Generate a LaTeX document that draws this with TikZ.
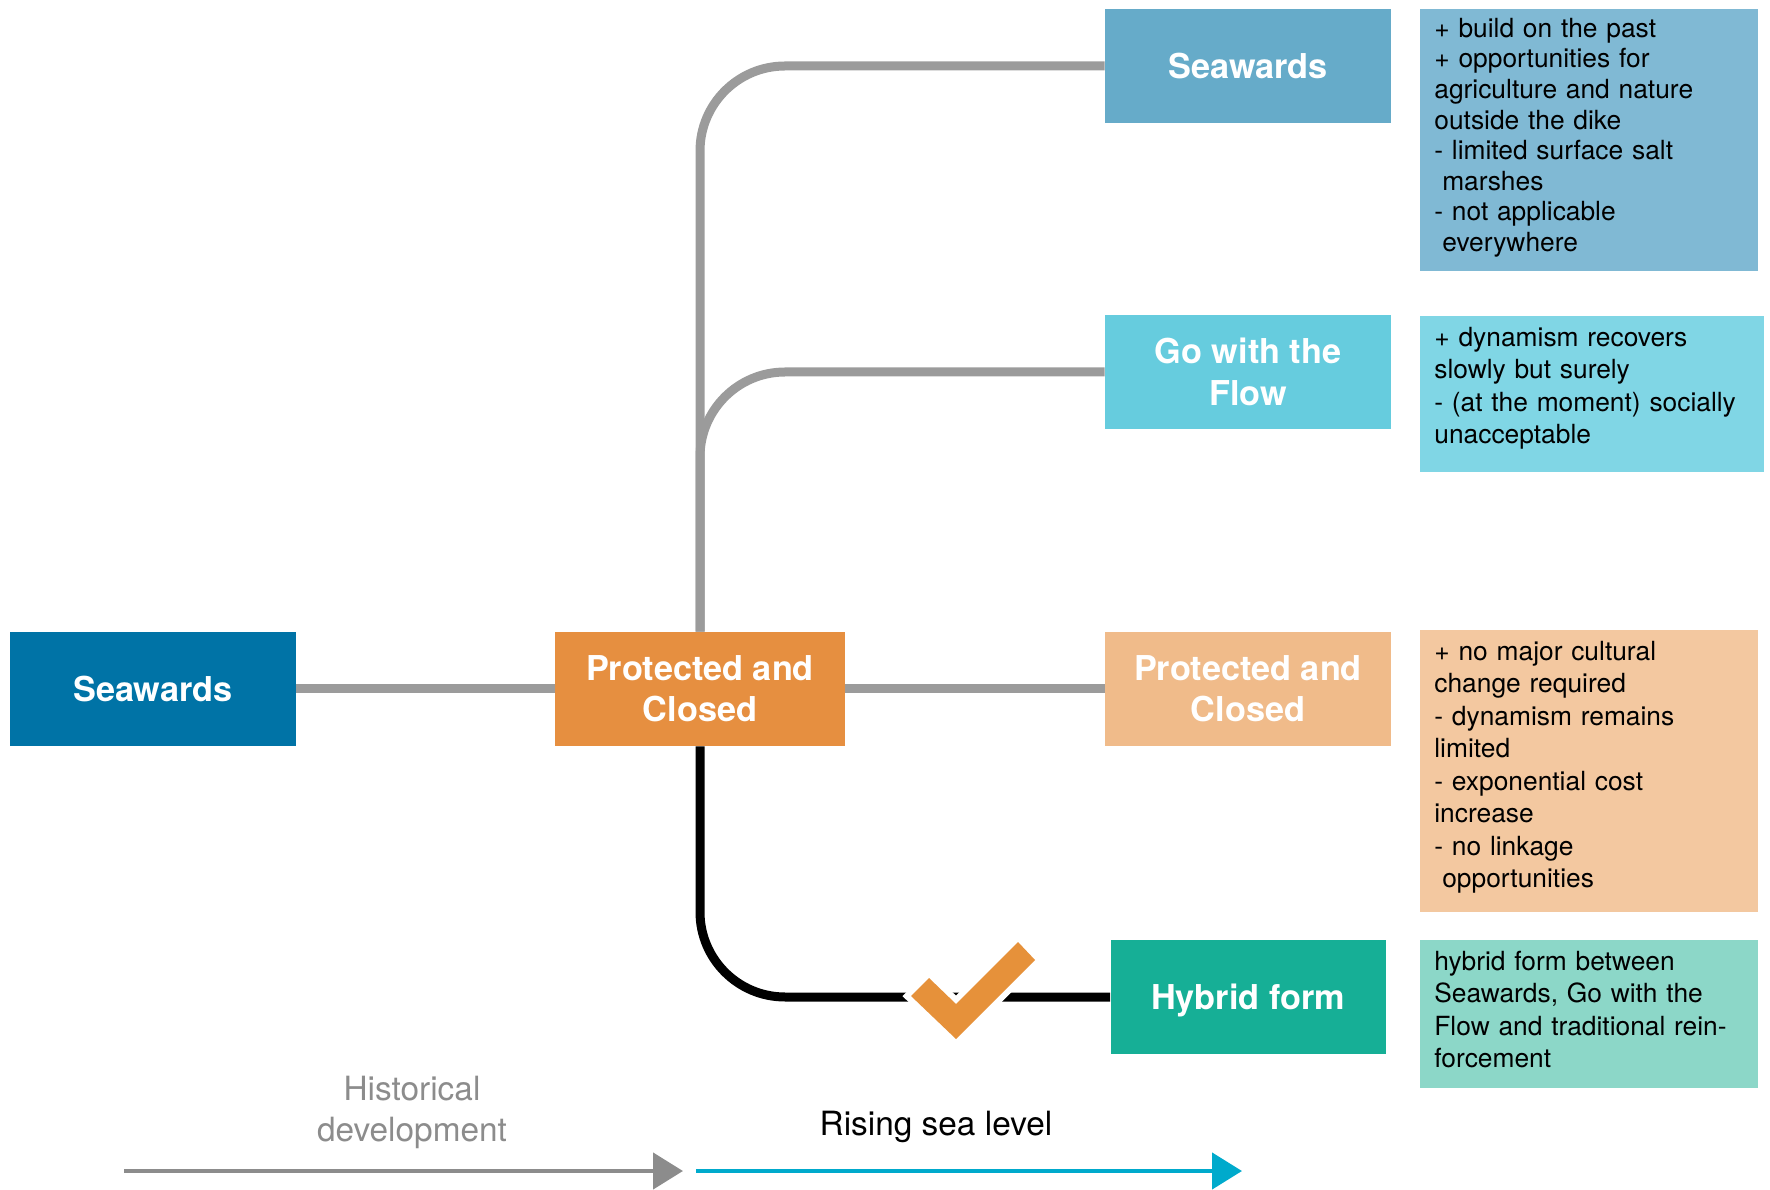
\documentclass[tikz,border=0pt]{standalone}
\usepackage{fontspec}
\setmainfont{TeX Gyre Heros}
\usepackage{tikz}
\usetikzlibrary{arrows.meta, positioning, calc}
\usepackage{xcolor}

\definecolor{seadark}{RGB}{0,115,166}
\definecolor{sealight}{RGB}{102,171,201}
\definecolor{flowblue}{RGB}{102,204,222}
\definecolor{protdark}{RGB}{230,143,64}
\definecolor{protlight}{RGB}{240,187,138}
\definecolor{hybgreen}{RGB}{22,175,150}
\definecolor{notesea}{RGB}{128,185,212}
\definecolor{noteflow}{RGB}{128,214,229}
\definecolor{noteprot}{RGB}{243,200,160}
\definecolor{notehyb}{RGB}{140,215,200}
\definecolor{linkgray}{RGB}{155,155,155}
\definecolor{arrowgray}{RGB}{140,140,140}
\definecolor{riseblue}{RGB}{0,170,204}
\definecolor{tickorange}{RGB}{230,145,58}

\begin{document}
\begin{tikzpicture}[
  box/.style={minimum width=5.72cm, minimum height=2.28cm, inner sep=0pt, align=center,
    text=white, font=\fontsize{19.5}{23.5}\selectfont\bfseries},
  note/.style={anchor=north west, text width=6.2cm, inner xsep=0.28cm, inner ysep=0pt,
    align=left, text height=0.6cm, font=\fontsize{15}{18.5}\selectfont},
  link/.style={line width=0.18cm, rounded corners=1.7cm},
  ]
  \useasboundingbox (0,0) rectangle (35.4,23.78);

  % strategies
  \node[box, fill=seadark] (sea0) at (3.06,10.0) {Seawards};
  \node[box, fill=protdark, minimum width=5.8cm] (prot0) at (14.0,10.0) {Protected and\\Closed};
  \node[box, fill=sealight] (sea1) at (24.96,22.46) {Seawards};
  \node[box, fill=flowblue] (flow) at (24.96,16.34) {Go with the\\Flow};
  \node[box, fill=protlight] (prot1) at (24.96,10.0) {Protected and\\Closed};
  \node[box, fill=hybgreen, minimum width=5.5cm, text depth=0pt] (hyb) at (24.96,3.84) {Hybrid form};

  % pros and cons
  \node[note, fill=notesea, text height=0.56cm, text depth=4.68cm, font=\fontsize{15}{17.4}\selectfont] (note1) at (28.4,23.6)
    {+ build on the past\\+ opportunities for\\agriculture and nature\\outside the dike\\
     - limited surface salt\\\hspace*{0.3em}marshes\\- not applicable\\\hspace*{0.3em}everywhere};
  \node[note, fill=noteflow, text depth=2.52cm, text width=6.32cm] (note2) at (28.4,17.46)
    {+ dynamism recovers\\slowly but surely\\- (at the moment) socially\\unacceptable};
  \node[note, fill=noteprot, text depth=5.04cm] (note3) at (28.4,11.18)
    {+ no major cultural\\change required\\- dynamism remains\\limited\\
     - exponential cost\\increase\\- no linkage\\\hspace*{0.3em}opportunities};
  \node[note, fill=notehyb, text depth=2.36cm] (note4) at (28.4,4.98)
    {hybrid form between\\Seawards, Go with the\\Flow and traditional rein-\\forcement};

  % branches
  \draw[link, linkgray] (sea0.east) -- (prot0.west);
  \draw[link, linkgray] (prot0.east) -- (prot1.west);
  \draw[link, linkgray] (prot0.north) |- (sea1.west);
  \draw[link, linkgray] (prot0.north) |- (flow.west);
  \draw[link, black] (prot0.south) |- (hyb.west);

  % tick on the chosen branch
  \draw[white, line width=0.24cm, line join=miter]
    (18.22,3.86) -- (18.58,4.22) -- (19.12,3.70) -- (20.36,4.94) -- (20.70,4.58) -- (19.12,3.00) -- cycle;
  \fill[tickorange]
    (18.22,3.86) -- (18.58,4.22) -- (19.12,3.70) -- (20.36,4.94) -- (20.70,4.58) -- (19.12,3.00) -- cycle;

  % time axis
  \coordinate (hist0) at (2.48,0.36);
  \coordinate (hist1) at (13.66,0.36);
  \coordinate (rise0) at (13.92,0.36);
  \coordinate (rise1) at (24.84,0.36);
  \draw[arrowgray, line width=0.09cm, -{Triangle[length=0.6cm, width=0.72cm]}] (hist0) -- (hist1);
  \draw[riseblue, line width=0.09cm, -{Triangle[length=0.6cm, width=0.72cm]}] (rise0) -- (rise1);
  \node[arrowgray, align=center, font=\fontsize{19}{23.5}\selectfont] (histlbl) at (8.24,1.53) {Historical\\development};
  \node[font=\fontsize{19}{23.5}\selectfont] (riselbl) at (18.72,1.25) {Rising sea level};
\end{tikzpicture}
\end{document}
